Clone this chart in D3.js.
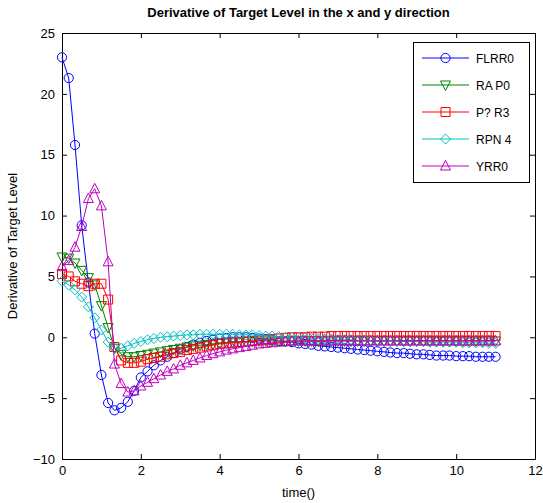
<!DOCTYPE html>
<html><head><meta charset="utf-8">
<script src="https://cdn.jsdelivr.net/npm/d3@7"></script>
<style>body{margin:0;background:#fff}svg{display:block}</style>
</head><body><svg id="c" width="543" height="503"></svg>
<script>
const times = [0,0.17,0.33,0.5,0.67,0.83,1,1.17,1.33,1.5,1.67,1.83,2,2.17,2.33,2.5,2.67,2.83,3,3.17,3.33,3.5,3.67,3.83,4,4.17,4.33,4.5,4.67,4.83,5,5.17,5.33,5.5,5.67,5.83,6,6.17,6.33,6.5,6.67,6.83,7,7.17,7.33,7.5,7.67,7.83,8,8.17,8.33,8.5,8.67,8.83,9,9.17,9.33,9.5,9.67,9.83,10,10.17,10.33,10.5,10.67,10.83,11];
const seriesNames = ["FLRR0","RA P0","P? R3","RPN 4","YRR0"];
const blue = [23.0,21.3,15.8,9.2,4.5,0.3,-3.1,-5.4,-6.0,-5.8,-5.3,-4.4,-3.3,-2.8,-2.3,-1.9,-1.6,-1.3,-1.0,-0.8,-0.6,-0.45,-0.3,-0.2,-0.1,-0.05,0.0,0.0,0.0,-0.05,-0.1,-0.15,-0.2,-0.3,-0.35,-0.4,-0.5,-0.55,-0.6,-0.7,-0.75,-0.8,-0.85,-0.9,-0.95,-1.0,-1.05,-1.1,-1.15,-1.2,-1.25,-1.3,-1.3,-1.35,-1.4,-1.4,-1.45,-1.5,-1.5,-1.5,-1.55,-1.55,-1.55,-1.6,-1.6,-1.6,-1.6];
const green = [6.6,6.5,6.1,5.5,4.9,4.3,2.6,0.8,-0.9,-1.4,-1.6,-1.6,-1.5,-1.4,-1.3,-1.2,-1.1,-1.0,-0.9,-0.8,-0.7,-0.65,-0.6,-0.55,-0.5,-0.45,-0.4,-0.4,-0.35,-0.35,-0.3,-0.3,-0.3,-0.3,-0.3,-0.3,-0.3,-0.3,-0.3,-0.3,-0.3,-0.3,-0.3,-0.3,-0.3,-0.3,-0.3,-0.3,-0.3,-0.3,-0.3,-0.3,-0.3,-0.3,-0.3,-0.3,-0.3,-0.3,-0.3,-0.3,-0.3,-0.3,-0.3,-0.3,-0.3,-0.3,-0.3];
const red = [5.2,5.0,4.6,4.4,4.2,4.4,4.4,3.1,-0.8,-1.9,-2.1,-2.1,-2.0,-1.8,-1.7,-1.6,-1.4,-1.3,-1.2,-1.05,-0.95,-0.85,-0.75,-0.65,-0.55,-0.5,-0.45,-0.4,-0.35,-0.3,-0.25,-0.2,-0.15,-0.1,-0.05,0.0,0.0,0.0,0.05,0.05,0.05,0.1,0.1,0.1,0.1,0.1,0.1,0.1,0.1,0.1,0.1,0.1,0.1,0.1,0.1,0.1,0.1,0.1,0.1,0.1,0.1,0.1,0.1,0.1,0.1,0.1,0.1];
const cyan = [4.6,4.3,3.9,3.3,2.5,1.6,0.6,-0.4,-0.9,-0.9,-0.7,-0.5,-0.35,-0.2,-0.1,0.0,0.05,0.1,0.15,0.2,0.2,0.25,0.25,0.25,0.25,0.25,0.25,0.2,0.2,0.2,0.15,0.1,0.1,0.05,0.0,0.0,-0.05,-0.05,-0.1,-0.1,-0.15,-0.15,-0.2,-0.2,-0.2,-0.25,-0.25,-0.25,-0.3,-0.3,-0.3,-0.3,-0.35,-0.35,-0.35,-0.35,-0.4,-0.4,-0.4,-0.4,-0.4,-0.45,-0.45,-0.45,-0.45,-0.5,-0.5];
const magenta = [5.8,6.3,7.4,9.1,11.4,12.2,10.8,6.2,-2.2,-3.8,-4.5,-4.4,-4.0,-3.7,-3.4,-3.1,-2.8,-2.6,-2.3,-2.1,-1.9,-1.7,-1.5,-1.35,-1.2,-1.05,-0.95,-0.85,-0.75,-0.65,-0.55,-0.5,-0.45,-0.4,-0.35,-0.3,-0.3,-0.3,-0.3,-0.3,-0.3,-0.3,-0.3,-0.3,-0.3,-0.3,-0.3,-0.3,-0.3,-0.3,-0.3,-0.3,-0.3,-0.3,-0.3,-0.3,-0.3,-0.3,-0.3,-0.3,-0.3,-0.3,-0.3,-0.3,-0.3,-0.3,-0.3];
const xTicks = [0,2,4,6,8,10,12];
const yTicks = [-10,-5,0,5,10,15,20,25];
const titleText = "Derivative of Target Level in the x and y direction";
const xLabelText = "time()";
const yLabelText = "Derivative of Target Level";

const colors = ["#0000ff","#008000","#ff0000","#00bfbf","#bf00bf"];
const markers = ["circle","tridown","square","diamond","triup"];
const data = [blue, green, red, cyan, magenta];

const svg = d3.select("#c");
const L = 62, R = 535, T = 33, B = 459;
const x = d3.scaleLinear().domain([0,12]).range([L,R]);
const y = d3.scaleLinear().domain([-10,25]).range([B,T]);
const font = "Liberation Sans, Arial, sans-serif";

function markerPath(type){
  const s = 5;
  switch(type){
    case "circle": return d3.arc()({innerRadius:0,outerRadius:4.6,startAngle:0,endAngle:2*Math.PI});
    case "square": return `M${-4.5},${-4.5}H4.5V4.5H-4.5Z`;
    case "diamond": return `M0,${-s}L${s},0L0,${s}L${-s},0Z`;
    case "triup": return `M0,${-s-0.5}L${s},${s-1}L${-s},${s-1}Z`;
    case "tridown": return `M0,${s+0.5}L${s},${-s+1}L${-s},${-s+1}Z`;
  }
}

svg.append("rect").attr("x",0).attr("y",0).attr("width",543).attr("height",503).attr("fill","#fff");

// axes
const gx = svg.append("g").attr("transform",`translate(0,${B})`)
  .call(d3.axisBottom(x).tickValues(xTicks).tickSizeInner(-5).tickSizeOuter(0).tickPadding(7));
const gxt = svg.append("g").attr("transform",`translate(0,${T})`)
  .call(d3.axisTop(x).tickValues(xTicks).tickSizeInner(-5).tickSizeOuter(0).tickFormat(""));
const gy = svg.append("g").attr("transform",`translate(${L},0)`)
  .call(d3.axisLeft(y).tickValues(yTicks).tickSizeInner(-5).tickSizeOuter(0).tickPadding(7));
const gyr = svg.append("g").attr("transform",`translate(${R},0)`)
  .call(d3.axisRight(y).tickValues(yTicks).tickSizeInner(-5).tickSizeOuter(0).tickFormat(""));
[gx,gxt,gy,gyr].forEach(g=>{
  g.selectAll("path.domain").attr("stroke","#000").attr("stroke-width",1);
  g.selectAll("line").attr("stroke","#000");
  g.selectAll("text").attr("font-family",font).attr("font-size",13).attr("fill","#000");
});

// series
const plot = svg.append("g");
data.forEach((vals,k)=>{
  const pts = vals.map((v,i)=>[times[i],v]);
  plot.append("path").datum(pts)
    .attr("fill","none").attr("stroke",colors[k]).attr("stroke-width",1)
    .attr("d",d3.line().x(d=>x(d[0])).y(d=>y(d[1])));
  plot.append("g").selectAll("path").data(pts).join("path")
    .attr("transform",d=>`translate(${x(d[0])},${y(d[1])})`)
    .attr("d",markerPath(markers[k]))
    .attr("fill","none").attr("stroke",colors[k]).attr("stroke-width",1);
});

// legend
const lg = svg.append("g");
lg.append("rect").attr("x",413.5).attr("y",42.5).attr("width",116).attr("height",140)
  .attr("fill","#fff").attr("stroke","#000").attr("stroke-width",1);
seriesNames.forEach((nm,k)=>{
  const yy = 58 + k*27;
  lg.append("line").attr("x1",422).attr("x2",469).attr("y1",yy).attr("y2",yy)
    .attr("stroke",colors[k]).attr("stroke-width",1);
  lg.append("path").attr("transform",`translate(445.5,${yy})`).attr("d",markerPath(markers[k]))
    .attr("fill","none").attr("stroke",colors[k]).attr("stroke-width",1);
  lg.append("text").attr("x",476).attr("y",yy+4.5).text(nm)
    .attr("font-family","Wingdings, "+font).attr("font-size",12).attr("fill","#000");
});

// labels
svg.append("text").attr("x",(L+R)/2).attr("y",17).attr("text-anchor","middle")
  .attr("font-family","Wingdings, "+font).attr("font-size",13).attr("font-weight","bold").text(titleText);
svg.append("text").attr("x",(L+R)/2).attr("y",497).attr("text-anchor","middle")
  .attr("font-family","Wingdings, "+font).attr("font-size",13).text(xLabelText);
svg.append("text").attr("transform",`translate(17,${(T+B)/2}) rotate(-90)`).attr("text-anchor","middle")
  .attr("font-family","Wingdings, "+font).attr("font-size",13).text(yLabelText);
</script>
</body></html>
